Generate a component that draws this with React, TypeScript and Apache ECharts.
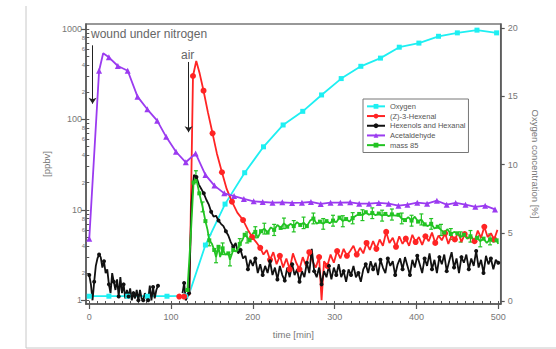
import React, { useEffect, useRef } from "react";
import * as echarts from "echarts";

// ---------- axes ----------
const xMin = -4;
const xMax = 503;
const yMin = 0.91;
const yMax = 1130;
const rMin = -0.22;
const rMax = 20.3;

const xMajorTicks = [0, 100, 200, 300, 400, 500];
const xMinorTicks = [0, 10, 20, 30, 40, 50, 60, 70, 80, 90, 100, 110, 120, 130, 140, 150, 160, 170, 180, 190, 200, 210, 220, 230, 240, 250, 260, 270, 280, 290, 300, 310, 320, 330, 340, 350, 360, 370, 380, 390, 400, 410, 420, 430, 440, 450, 460, 470, 480, 490, 500];
const yMajorTicks = [1, 10, 100, 1000];
const yMinorTicks = [1, 2, 3, 4, 5, 6, 7, 8, 9, 10, 20, 30, 40, 50, 60, 70, 80, 90, 100, 200, 300, 400, 500, 600, 700, 800, 900, 1000];
const yMinorLabels = [2, 4, 6, 8, 20, 40, 60, 80, 200, 400, 600, 800];
const rTicks = [0, 5, 10, 15, 20];

// ---------- data ----------
const oxygenT = [0, 24, 47, 71, 95, 118, 122, 142, 166, 190, 213, 237, 261, 284, 308, 332, 356, 379, 403, 427, 450, 474, 498];
const oxygenV = [0.35, 0.35, 0.35, 0.35, 0.35, 0.38, 0.5, 4.1, 7.1, 9.4, 11.3, 12.9, 13.9, 15.1, 16.3, 17.2, 17.8, 18.6, 18.9, 19.4, 19.65, 19.85, 19.65];

const acetT = [0, 12, 17, 24, 35, 47, 59, 71, 83, 94, 106, 118, 130, 142, 153, 165, 177, 189, 201, 212, 224, 236, 248, 260, 271, 283, 295, 307, 319, 330, 342, 354, 366, 378, 389, 401, 413, 425, 437, 448, 460, 472, 484, 496];
const acetV = [4.8, 344, 536, 484, 388, 344, 178, 129, 96.6, 64, 43.8, 33.5, 42, 24.3, 18.5, 15.2, 14.2, 13.2, 12.4, 12.2, 12.0, 12.1, 11.9, 12.0, 12.2, 11.6, 12.0, 12.0, 12.1, 11.7, 11.7, 11.9, 11.7, 11.1, 11.4, 12.0, 11.7, 12.6, 11.4, 11.9, 11.4, 10.8, 11.1, 10.1];

const hexenal: [number, number][] = [
  [110, 1.1], [116, 1.1], [122.5, 1.15], [126.8, 301], [130.8, 441], [135, 320], [139.7, 207], [145, 120], [150.7, 70], [156, 42],
  [162.2, 26], [168, 17], [174.4, 12.3], [181, 9.3], [188, 7.7], [194, 6.0], [199, 5.0], [204, 4.4], [209, 3.8], [213, 3.2],
  [217, 3.6], [221, 2.8], [225, 3.4], [229, 2.5], [233, 3.1], [237, 2.3], [241, 2.9], [245, 2.2], [249, 3.3], [253, 2.6],
  [257, 2.2], [261, 3.0], [265, 2.4], [269, 3.4], [273, 2.7], [277, 2.3], [281, 3.0], [284, 1.0], [287, 2.7], [291, 2.4],
  [295, 3.2], [299, 2.6], [303, 3.5], [307, 2.9], [311, 3.7], [315, 3.1], [319, 3.5], [323, 4.0], [327, 3.2], [331, 3.8],
  [335, 3.3], [339, 4.3], [343, 3.6], [347, 4.5], [351, 3.7], [355, 4.7], [359, 4.0], [363, 5.7], [367, 4.3], [371, 4.9],
  [375, 3.9], [379, 5.1], [383, 4.2], [387, 4.8], [391, 4.0], [395, 5.3], [399, 4.4], [403, 5.0], [407, 4.1], [411, 5.1],
  [415, 4.5], [419, 5.6], [423, 4.3], [427, 5.2], [431, 4.6], [435, 5.5], [439, 4.2], [443, 5.2], [447, 4.7], [451, 5.6],
  [455, 4.4], [459, 5.4], [463, 4.8], [467, 5.1], [471, 4.5], [475, 5.9], [479, 4.9], [483, 6.5], [487, 5.0], [491, 5.5],
  [495, 4.7], [499, 6.0],
];

const hexenols: [number, number | string][] = [
  [0, 1.9], [2, 1.5], [4, 1.0], [6, 1.6], [8, 2.4], [10, 2.9], [12, 3.2], [14, 3.0], [16, 2.3], [18, 2.7],
  [20, 2.0], [22, 2.2], [24, 1.5], [26, 1.2], [28, 2.0], [30, 1.6], [32, 1.3], [34, 1.7], [36, 1.1], [38, 1.8],
  [40, 1.2], [42, 1.5], [44, 1.05], [46, 1.3], [48, 1.1], [50, 1.35], [52, 1.0], [54, 1.2], [56, 1.05], [58, 1.3],
  [60, 1.0], [62, 1.3], [64, 1.05], [66, 1.0], [68, 1.2], [70, 1.05], [72, 1.0], [74, 1.45], [76, 1.0], [78, 1.4],
  [80, 1.05], [82, 1.3], [84, 1.45], [100, "-"],
  [114, 1.2], [116, 1.55], [118, 1.0], [120, 1.1], [122, 1.2], [125, 12], [128, 24.3], [131, 23], [134, 19], [137, 17],
  [140, 15.2], [143, 13], [146, 11.5], [149, 9.5], [152, 8.4], [155, 8.6], [158, 7.6], [161, 7.0], [164, 6.6], [167, 5.8],
  [170, 5.2], [173, 4.4], [176, 3.9], [179, 4.3], [182, 3.3], [185, 3.6], [188, 2.9], [191, 3.1], [194, 2.2], [197, 2.8],
  [200, 2.4], [203, 2.9], [206, 2.0], [209, 2.5], [212, 1.9], [215, 2.4], [218, 2.0], [221, 2.7], [224, 1.9], [227, 2.3],
  [230, 1.7], [233, 2.4], [236, 1.9], [239, 1.65], [242, 2.3], [245, 1.8], [248, 2.5], [251, 1.9], [254, 2.2], [257, 1.6],
  [260, 2.1], [263, 1.8], [266, 2.6], [269, 2.0], [272, 3.7], [275, 2.1], [278, 1.8], [281, 2.3], [284, 1.5], [287, 2.1],
  [290, 1.8], [293, 2.4], [296, 1.7], [299, 2.3], [302, 1.9], [305, 2.5], [308, 1.8], [311, 2.1], [314, 1.6], [317, 2.2],
  [320, 1.9], [323, 2.4], [326, 1.8], [329, 2.0], [332, 1.6], [335, 2.2], [338, 2.5], [341, 2.0], [344, 2.7], [347, 2.2],
  [350, 2.6], [353, 1.9], [356, 2.8], [359, 2.3], [362, 2.0], [365, 2.9], [368, 2.4], [371, 2.7], [374, 1.9], [377, 2.5],
  [380, 2.9], [383, 2.2], [386, 3.0], [389, 2.4], [392, 1.9], [395, 2.8], [398, 2.3], [401, 3.1], [404, 2.5], [407, 2.0],
  [410, 2.9], [413, 2.4], [416, 3.3], [419, 2.2], [422, 2.8], [425, 2.0], [428, 3.0], [431, 2.5], [434, 3.2], [437, 2.1],
  [440, 2.7], [443, 3.4], [446, 2.3], [449, 2.9], [452, 2.0], [455, 3.0], [458, 2.6], [461, 3.2], [464, 2.2], [467, 2.9],
  [470, 2.4], [473, 3.5], [476, 2.3], [479, 2.8], [482, 2.0], [485, 3.1], [488, 2.5], [491, 2.9], [494, 2.2], [497, 2.8],
  [500, 2.6],
];

const mass85: [number, number][] = [
  [120, 1.3], [124, 5], [127.5, 20], [130.4, 23.2], [134.5, 15.2], [138.5, 10.8], [142, 7.5], [144.6, 6.0], [146.7, 4.6], [150, 4.2],
  [152.8, 3.6], [155, 3.0], [158, 3.9], [160, 3.0], [163, 3.75], [166, 3.2], [170, 3.3], [172, 2.8], [176, 3.6], [180, 3.45],
  [184, 4.2], [187, 4.6], [190, 5.3], [193, 5.0], [196, 4.6], [200, 5.5], [203, 5.7], [206, 4.9], [210, 5.8], [214, 6.2],
  [218, 5.6], [222, 6.4], [226, 6.0], [230, 6.8], [234, 6.3], [238, 7.1], [242, 6.5], [246, 7.0], [250, 6.6], [254, 7.3],
  [258, 6.8], [262, 7.2], [266, 6.6], [270, 7.6], [274, 8.0], [278, 7.0], [282, 7.4], [286, 7.0], [290, 7.5], [294, 7.1],
  [298, 7.6], [302, 7.3], [306, 8.2], [310, 7.5], [314, 7.9], [318, 7.4], [322, 8.1], [326, 8.6], [330, 9.0], [334, 8.7],
  [338, 9.4], [342, 8.8], [346, 9.2], [350, 8.7], [354, 9.1], [358, 8.6], [362, 9.0], [366, 8.5], [370, 8.9], [374, 8.6],
  [378, 8.8], [382, 8.0], [386, 7.7], [390, 8.3], [394, 7.6], [398, 8.4], [402, 7.4], [406, 7.8], [410, 6.9], [414, 6.6],
  [418, 7.0], [422, 6.2], [426, 6.5], [430, 6.0], [434, 5.6], [438, 6.1], [442, 5.4], [446, 5.7], [450, 5.5], [454, 5.0],
  [458, 5.3], [462, 4.8], [466, 5.1], [470, 4.6], [474, 4.9], [478, 4.5], [482, 4.8], [486, 4.3], [490, 4.7], [494, 4.4],
  [498, 4.6], [500, 4.2],
];

// error bars of mass 85: [time, low, high]
const mass85Err: [number, number, number][] = [
  [130.4, 20, 27], [138.5, 9.5, 12.2], [146.7, 4.0, 5.3], [155, 2.6, 3.5], [163, 3.2, 4.3], [172, 2.4, 3.2],
  [184, 3.6, 4.8], [193, 4.3, 5.7], [203, 4.9, 6.5], [214, 5.4, 7.1], [226, 5.2, 6.9], [238, 6.2, 8.1],
  [250, 5.7, 7.6], [262, 6.2, 8.3], [274, 7.0, 9.2], [286, 6.1, 8.0], [298, 6.6, 8.7], [310, 6.5, 8.6],
  [322, 7.0, 9.3], [334, 7.6, 10.0], [346, 8.0, 10.5], [358, 7.5, 9.9], [370, 7.7, 10.2], [382, 7.0, 9.2],
  [394, 6.6, 8.7], [406, 6.8, 9.0], [418, 6.1, 8.0], [430, 5.2, 6.9], [442, 4.7, 6.2], [454, 4.4, 5.7],
  [466, 4.4, 5.9], [478, 3.9, 5.2], [490, 4.1, 5.4],
];

// annotation arrows (time, from ppbv, to ppbv)
const arrowT = [4, 121.4];
const arrowFrom = [657, 430];
const arrowTo = [149, 72];

const seriesNames = ["Oxygen", "(Z)-3-Hexenal", "Hexenols and Hexanal", "Acetaldehyde", "mass 85"];

const FONT = "Liberation Sans, Arial, sans-serif";
const GREEN = "#22C322";

function withMarkers(pairs: any[], keep: (i: number) => boolean) {
  return pairs.map((p, i) => (keep(i) ? p : { value: p, symbol: "none" }));
}

export default function App() {
  const ref = useRef<HTMLDivElement>(null);
  useEffect(() => {
    if (!ref.current) return;
    const chart = echarts.init(ref.current, null, { renderer: "svg" });

    const oxygenData = withMarkers(oxygenT.map((t, i) => [t, oxygenV[i]]), (i) => oxygenT[i] !== 122);
    const acetData = withMarkers(acetT.map((t, i) => [t, acetV[i]]), (i) => acetT[i] !== 17);
    const hexenalData = withMarkers(hexenal, (i) => (i <= 18 ? i === 0 || i === 1 || i === 3 || (i >= 6 && i % 2 === 0) : i % 3 === 0));
    const hexenolsData = withMarkers(hexenols, (i) => i % 3 === 0);
    const massData = withMarkers(mass85, (i) => i % 2 === 0);

    const axisColor = "#555";
    const labelColor = "#777";

    chart.setOption({
      animation: false,
      backgroundColor: "#fff",
      textStyle: { fontFamily: FONT },
      grid: {
        left: 86,
        right: 55.3,
        top: 24,
        bottom: 45,
        show: true,
        borderColor: "#777",
        borderWidth: 1.5,
        containLabel: false,
      },
      legend: {
        orient: "vertical",
        left: 363,
        top: 99,
        data: seriesNames,
        itemWidth: 18,
        itemHeight: 6,
        itemGap: 1,
        padding: 3,
        borderColor: "#777",
        borderWidth: 1,
        backgroundColor: "#fff",
        textStyle: { fontSize: 7.5, lineHeight: 8.7, color: "#555", fontFamily: FONT },
      },
      xAxis: [
        {
          type: "value",
          min: xMin,
          max: xMax,
          position: "bottom",
          name: "time [min]",
          nameLocation: "middle",
          nameGap: 25,
          nameTextStyle: { fontSize: 9.5, color: labelColor, fontFamily: FONT },
          axisLine: { show: true, onZero: false, lineStyle: { color: axisColor, width: 1.5 } },
          axisTick: { show: true, customValues: xMajorTicks, length: 5, lineStyle: { color: axisColor, width: 1.2 } },
          axisLabel: { show: true, customValues: xMajorTicks, fontSize: 9, color: labelColor, margin: 8, fontFamily: FONT },
          splitLine: { show: false },
        },
        {
          type: "value",
          min: xMin,
          max: xMax,
          position: "bottom",
          axisLine: { show: false },
          axisTick: { show: true, customValues: xMinorTicks, length: 3, lineStyle: { color: axisColor, width: 1 } },
          axisLabel: { show: false },
          splitLine: { show: false },
        },
      ],
      yAxis: [
        {
          type: "log",
          logBase: 10,
          min: yMin,
          max: yMax,
          position: "left",
          name: "[ppbv]",
          nameLocation: "middle",
          nameGap: 31,
          nameRotate: 90,
          nameTextStyle: { fontSize: 9.5, color: labelColor, fontFamily: FONT },
          axisLine: { show: true, onZero: false, lineStyle: { color: axisColor, width: 1.5 } },
          axisTick: { show: true, customValues: yMajorTicks, length: 5, lineStyle: { color: axisColor, width: 1.2 } },
          axisLabel: {
            show: true,
            customValues: yMajorTicks,
            fontSize: 9,
            color: labelColor,
            margin: 4,
            fontFamily: FONT,
            formatter: (v: number) => String(Math.round(v)),
          },
          splitLine: { show: false },
        },
        {
          type: "log",
          logBase: 10,
          min: yMin,
          max: yMax,
          position: "left",
          axisLine: { show: false },
          axisTick: { show: true, customValues: yMinorTicks, length: 3, lineStyle: { color: axisColor, width: 1 } },
          axisLabel: {
            show: true,
            customValues: yMinorLabels,
            fontSize: 6,
            color: labelColor,
            margin: 1,
            fontFamily: FONT,
            formatter: (v: number) => String(Math.round(v / Math.pow(10, Math.floor(Math.log10(v) + 1e-9)))),
          },
          splitLine: { show: false },
        },
        {
          type: "value",
          min: rMin,
          max: rMax,
          position: "right",
          name: "Oxygen concentration [%]",
          nameLocation: "middle",
          nameGap: 30,
          nameRotate: -90,
          nameTextStyle: { fontSize: 9.5, color: labelColor, fontFamily: FONT },
          axisLine: { show: true, onZero: false, lineStyle: { color: axisColor, width: 1.5 } },
          axisTick: { show: true, customValues: rTicks, length: 4, lineStyle: { color: axisColor, width: 1.2 } },
          axisLabel: { show: true, customValues: rTicks, fontSize: 9, color: labelColor, margin: 7, fontFamily: FONT },
          splitLine: { show: false },
        },
      ],
      graphic: [
        { type: "line", shape: { x1: 26, y1: 6, x2: 26, y2: 348 }, style: { stroke: "#c8c8c8", lineWidth: 1 }, silent: true },
        { type: "line", shape: { x1: 26, y1: 348, x2: 556, y2: 348 }, style: { stroke: "#c8c8c8", lineWidth: 1 }, silent: true },
        {
          type: "text",
          left: 91,
          top: 28,
          style: { text: "wound under nitrogen", font: "12px " + FONT, fill: "#666" },
          silent: true,
        },
        {
          type: "text",
          left: 181,
          top: 49,
          style: { text: "air", font: "12px " + FONT, fill: "#666" },
          silent: true,
        },
      ],
      series: [
        {
          name: seriesNames[0],
          type: "line",
          xAxisIndex: 0,
          yAxisIndex: 2,
          data: oxygenData,
          symbol: "rect",
          symbolSize: 5,
          showAllSymbol: true,
          itemStyle: { color: "#1EEFF2" },
          lineStyle: { color: "#1EEFF2", width: 1.8 },
        },
        {
          name: seriesNames[1],
          type: "line",
          xAxisIndex: 0,
          yAxisIndex: 0,
          data: hexenalData,
          symbol: "circle",
          symbolSize: 6,
          showAllSymbol: true,
          itemStyle: { color: "#FF2424" },
          lineStyle: { color: "#FF2424", width: 1.8 },
        },
        {
          name: seriesNames[2],
          type: "line",
          xAxisIndex: 0,
          yAxisIndex: 0,
          data: hexenolsData,
          symbol: "circle",
          symbolSize: 4,
          showAllSymbol: true,
          itemStyle: { color: "#111" },
          lineStyle: { color: "#111", width: 1.8 },
        },
        {
          name: seriesNames[3],
          type: "line",
          xAxisIndex: 0,
          yAxisIndex: 0,
          data: acetData,
          symbol: "triangle",
          symbolSize: 6,
          showAllSymbol: true,
          itemStyle: { color: "#9B3BF0" },
          lineStyle: { color: "#9B3BF0", width: 1.8 },
          markLine: {
            silent: true,
            symbol: ["none", "arrow"],
            symbolSize: 6,
            label: { show: false },
            lineStyle: { color: "#222", width: 1, type: "solid" },
            data: arrowT.map((t, i) => [{ coord: [t, arrowFrom[i]] }, { coord: [t, arrowTo[i]] }]),
          },
        },
        {
          name: seriesNames[4],
          type: "line",
          xAxisIndex: 0,
          yAxisIndex: 0,
          data: massData,
          symbol: "rect",
          symbolSize: 4,
          showAllSymbol: true,
          itemStyle: { color: GREEN },
          lineStyle: { color: GREEN, width: 1.8 },
        },
        {
          name: "mass 85 error",
          type: "custom",
          xAxisIndex: 0,
          yAxisIndex: 0,
          data: mass85Err,
          encode: { x: 0, y: [1, 2] },
          silent: true,
          renderItem: (params: any, api: any) => {
            const t = api.value(0);
            const lo = api.coord([t, api.value(1)]);
            const hi = api.coord([t, api.value(2)]);
            const w = 2;
            const style = { stroke: GREEN, lineWidth: 1.2 };
            return {
              type: "group",
              children: [
                { type: "line", shape: { x1: lo[0], y1: lo[1], x2: hi[0], y2: hi[1] }, style },
                { type: "line", shape: { x1: lo[0] - w, y1: lo[1], x2: lo[0] + w, y2: lo[1] }, style },
                { type: "line", shape: { x1: hi[0] - w, y1: hi[1], x2: hi[0] + w, y2: hi[1] }, style },
              ],
            };
          },
        },
      ],
    });
    return () => chart.dispose();
  }, []);

  return <div ref={ref} style={{ position: "fixed", left: 0, top: 0, width: 556, height: 349 }} />;
}
